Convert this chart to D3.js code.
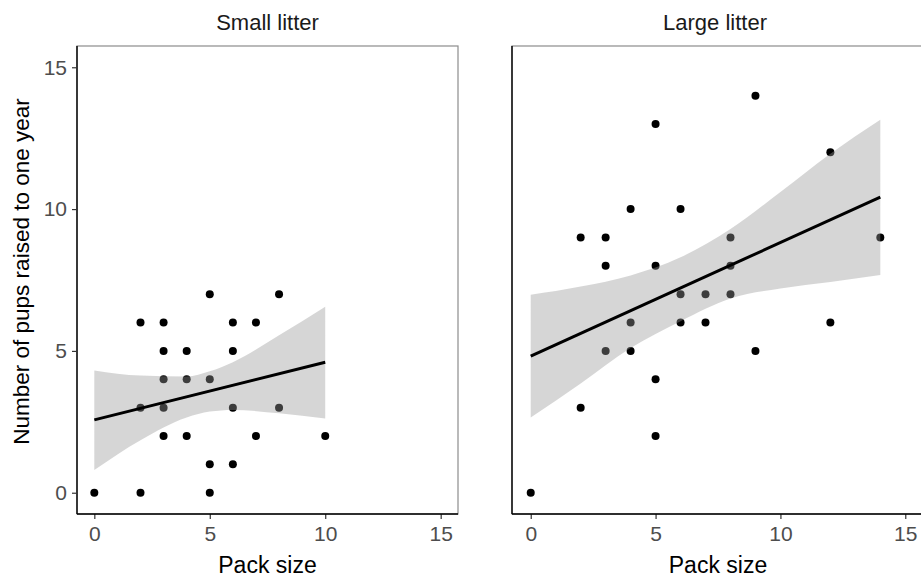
<!DOCTYPE html>
<html>
<head>
<meta charset="utf-8">
<script src="https://cdn.jsdelivr.net/npm/d3@7"></script>
<style>
  body { margin: 0; background: #fff; }
  svg { display: block; font-family: "Liberation Sans", Arial, sans-serif; }
</style>
</head>
<body>
<div id="chart"></div>
<script>
// small litter points
const smallX = [5, 8, 2, 3, 6, 7, 3, 4, 6, 3, 4, 5, 2, 3, 6, 8, 3, 4, 7, 10, 5, 6, 0, 2, 5];
const smallY = [7, 7, 6, 6, 6, 6, 5, 5, 5, 4, 4, 4, 3, 3, 3, 3, 2, 2, 2, 2, 1, 1, 0, 0, 0];
// large litter points
const largeX = [5, 4, 6, 2, 3, 3, 5, 6, 4, 6, 3, 4, 5, 2, 5, 0, 9, 12, 8, 14, 8, 7, 8, 7, 12, 9];
const largeY = [13, 10, 10, 9, 9, 8, 8, 7, 6, 6, 5, 5, 4, 3, 2, 0, 14, 12, 9, 9, 8, 7, 7, 6, 6, 5];

// fitted line + confidence band
const smallFitX = [0, 10];
const smallFitY = [2.57, 4.6];
const smallBandX = [0, 2, 4, 5, 6, 8, 10];
const smallBandHi = [4.31, 4.13, 4.1, 4.28, 4.6, 5.55, 6.56];
const smallBandLo = [0.8, 1.85, 2.65, 2.86, 2.92, 2.8, 2.62];

const largeFitX = [0, 14];
const largeFitY = [4.82, 10.42];
const largeBandX = [0, 2, 4, 6, 8, 10, 12, 14];
const largeBandHi = [6.98, 7.27, 7.66, 8.3, 9.3, 10.6, 11.95, 13.15];
const largeBandLo = [2.65, 3.85, 5.1, 6.05, 6.85, 7.2, 7.43, 7.68];

const panelTitles = ["Small litter", "Large litter"];
const xTicks = [0, 5, 10, 15];
const yTicks = [0, 5, 10, 15];

const w = 921, h = 580;
const panelTop = 46, panelBottom = 514;

const svg = d3.select("#chart").append("svg")
  .attr("width", w)
  .attr("height", h);

const yScale = d3.scaleLinear().domain([-0.75, 15.75]).range([panelBottom, panelTop]);

const panels = [
  {left: 77, right: 458, title: panelTitles[0], xs: smallX, ys: smallY,
   fx: smallFitX, fy: smallFitY, bx: smallBandX, hi: smallBandHi, lo: smallBandLo, yAxis: true},
  {left: 512, right: 924, title: panelTitles[1], xs: largeX, ys: largeY,
   fx: largeFitX, fy: largeFitY, bx: largeBandX, hi: largeBandHi, lo: largeBandLo, yAxis: false}
];

panels.forEach(p => {
  const xScale = d3.scaleLinear().domain([-0.75, 15.75]).range([p.left, p.right]);
  const g = svg.append("g");

  // panel border (grey), axis lines drawn on top later
  g.append("rect")
    .attr("x", p.left).attr("y", panelTop)
    .attr("width", p.right - p.left).attr("height", panelBottom - panelTop)
    .attr("fill", "none").attr("stroke", "#8c8c8c").attr("stroke-width", 1.2);

  // points
  g.selectAll("circle")
    .data(p.xs.map((x, i) => [x, p.ys[i]]))
    .enter()
    .append("circle")
    .attr("cx", d => xScale(d[0]))
    .attr("cy", d => yScale(d[1]))
    .attr("r", 4)
    .attr("fill", "#000");

  // confidence band
  const band = d3.area()
    .x((d, i) => xScale(p.bx[i]))
    .y0((d, i) => yScale(p.lo[i]))
    .y1((d, i) => yScale(p.hi[i]))
    .curve(d3.curveMonotoneX);
  g.append("path")
    .datum(p.bx)
    .attr("d", band)
    .attr("fill", "#999999")
    .attr("fill-opacity", 0.4);

  // fitted line
  const line = d3.line()
    .x((d, i) => xScale(p.fx[i]))
    .y((d, i) => yScale(p.fy[i]));
  g.append("path")
    .datum(p.fx)
    .attr("d", line)
    .attr("fill", "none")
    .attr("stroke", "#000")
    .attr("stroke-width", 3);

  // x axis
  const xAxis = d3.axisBottom(xScale).tickValues(xTicks).tickSize(5).tickPadding(7);
  const xa = g.append("g")
    .attr("transform", "translate(0," + panelBottom + ")")
    .call(xAxis);
  xa.select(".domain").remove();
  xa.selectAll(".tick line").attr("stroke", "#333").attr("stroke-width", 1.2);
  xa.selectAll(".tick text").attr("fill", "#4d4d4d").style("font-size", "21px");

  g.append("line")
    .attr("x1", p.left).attr("x2", p.right)
    .attr("y1", panelBottom).attr("y2", panelBottom)
    .attr("stroke", "#000").attr("stroke-width", 1.4);
  g.append("line")
    .attr("x1", p.left).attr("x2", p.left)
    .attr("y1", panelTop).attr("y2", panelBottom)
    .attr("stroke", "#000").attr("stroke-width", 1.4);

  if (p.yAxis) {
    const yAxis = d3.axisLeft(yScale).tickValues(yTicks).tickSize(5).tickPadding(5);
    const ya = g.append("g")
      .attr("transform", "translate(" + p.left + ",0)")
      .call(yAxis);
    ya.select(".domain").remove();
    ya.selectAll(".tick line").attr("stroke", "#333").attr("stroke-width", 1.2);
    ya.selectAll(".tick text").attr("fill", "#4d4d4d").style("font-size", "21px");
  }

  g.append("text")
    .attr("x", (p.left + p.right) / 2 + (p.yAxis ? 0 : -3))
    .attr("y", 30)
    .attr("text-anchor", "middle")
    .style("font-size", "22px")
    .attr("fill", "#1a1a1a")
    .text(p.title);

  g.append("text")
    .attr("x", xScale(7.5))
    .attr("y", 573)
    .attr("text-anchor", "middle")
    .style("font-size", "23px")
    .attr("fill", "#000")
    .text("Pack size");
});

svg.append("text")
  .attr("transform", "translate(29," + yScale(7.8) + ") rotate(-90)")
  .attr("text-anchor", "middle")
  .style("font-size", "22.5px")
  .attr("fill", "#000")
  .text("Number of pups raised to one year");
</script>
</body>
</html>
